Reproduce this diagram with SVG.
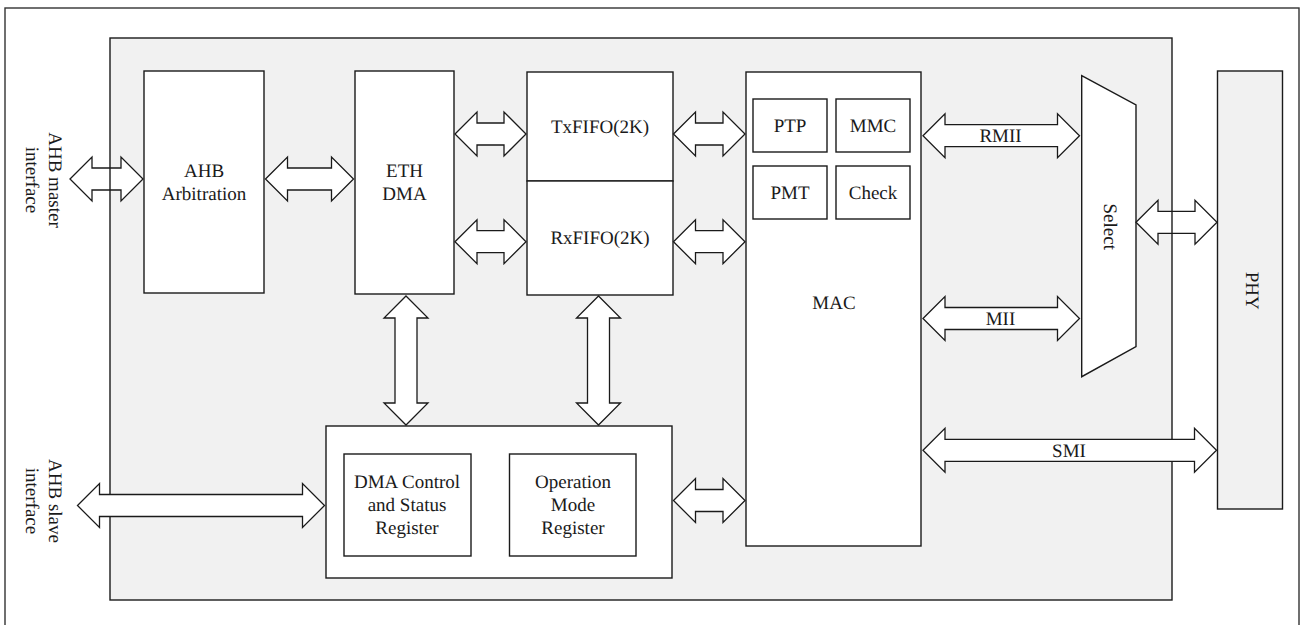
<svg xmlns="http://www.w3.org/2000/svg" width="1301" height="625" viewBox="0 0 1301 625" font-family="'Liberation Serif', 'Times New Roman', serif">
<style>
.bx{fill:#ffffff;stroke:#1a1a1a;stroke-width:1.4}
.gr{fill:#f1f1f1;stroke:#1a1a1a;stroke-width:1.4}
.ar{fill:#ffffff;stroke:#1a1a1a;stroke-width:1.3;stroke-linejoin:miter}
.ln{stroke:#1a1a1a;stroke-width:1.4;fill:none}
.t{font-family:'Liberation Serif', 'Times New Roman', serif;font-size:19px;fill:#1a1a1a;text-anchor:middle;text-rendering:geometricPrecision}
</style>
<rect id="frame" x="5" y="8" width="1294" height="630" fill="#ffffff" stroke="#333333" stroke-width="1.4"/>
<g id="panel"><rect class="gr" x="110" y="38" width="1062" height="562"/></g>

<g id="arbitration"><rect class="bx" x="144" y="71" width="120" height="222"/><text class="t" x="204" y="177">AHB</text><text class="t" x="204" y="199.5">Arbitration</text></g>
<g id="ethdma"><rect class="bx" x="355" y="71" width="99" height="223"/><text class="t" x="404.5" y="177">ETH</text><text class="t" x="404.5" y="200">DMA</text></g>
<g id="txfifo"><rect class="bx" x="527" y="72" width="146" height="109"/><text class="t" x="600" y="133">TxFIFO(2K)</text></g>
<g id="rxfifo"><rect class="bx" x="527" y="181" width="146" height="114"/><text class="t" x="600" y="244">RxFIFO(2K)</text></g>
<g id="mac"><rect class="bx" x="746" y="72" width="175" height="474"/><text class="t" x="834" y="309">MAC</text>
<g id="ptp"><rect class="bx" x="753" y="99" width="74" height="53"/><text class="t" x="790" y="132">PTP</text></g>
<g id="mmc"><rect class="bx" x="836" y="99" width="74" height="53"/><text class="t" x="873" y="132">MMC</text></g>
<g id="pmt"><rect class="bx" x="753" y="166" width="74" height="53"/><text class="t" x="790" y="199">PMT</text></g>
<g id="check"><rect class="bx" x="836" y="166" width="74" height="53"/><text class="t" x="873" y="199">Check</text></g>
</g>
<g id="registers"><rect class="bx" x="326" y="426" width="346" height="152"/>
<g id="dmareg"><rect class="bx" x="344" y="454" width="127" height="102"/><text class="t" x="407" y="487.5">DMA Control</text><text class="t" x="407" y="510.5">and Status</text><text class="t" x="407" y="534">Register</text></g>
<g id="opreg"><rect class="bx" x="509.5" y="454" width="126.5" height="102"/><text class="t" x="573" y="487.5">Operation</text><text class="t" x="573" y="510.5">Mode</text><text class="t" x="573" y="534">Register</text></g>
</g>
<g id="select"><polygon class="bx" points="1081.7,75.7 1136,105 1136,346.7 1081.7,376.7"/><text class="t" transform="translate(1103.5,226.7) rotate(90)">Select</text></g>
<g id="phy"><rect class="gr" x="1217.5" y="71" width="65" height="438"/><text class="t" transform="translate(1246,290.7) rotate(90)">PHY</text></g>

<g id="labels">
<text class="t" transform="translate(48.5,180) rotate(90)">AHB master</text>
<text class="t" transform="translate(26,180) rotate(90)">interface</text>
<text class="t" transform="translate(48.5,501) rotate(90)">AHB slave</text>
<text class="t" transform="translate(26,501) rotate(90)">interface</text>
</g>

<g id="connectors">
<path class="ar" d="M70,179 L92,157 L92,168 L121,168 L121,157 L143,179 L121,201 L121,190 L92,190 L92,201 Z"/>
<line class="ln" x1="110" y1="168" x2="110" y2="190"/>
<path class="ar" d="M265.5,179 L287.5,157 L287.5,168 L331.5,168 L331.5,157 L353.5,179 L331.5,201 L331.5,190 L287.5,190 L287.5,201 Z"/>
<path class="ar" d="M455,134 L477,112 L477,123 L504,123 L504,112 L526,134 L504,156 L504,145 L477,145 L477,156 Z"/>
<path class="ar" d="M455,241.7 L477,219.7 L477,230.7 L504,230.7 L504,219.7 L526,241.7 L504,263.7 L504,252.7 L477,252.7 L477,263.7 Z"/>
<path class="ar" d="M673.5,134 L695.5,112 L695.5,123 L723,123 L723,112 L745,134 L723,156 L723,145 L695.5,145 L695.5,156 Z"/>
<path class="ar" d="M673.5,241.7 L695.5,219.7 L695.5,230.7 L723,230.7 L723,219.7 L745,241.7 L723,263.7 L723,252.7 L695.5,252.7 L695.5,263.7 Z"/>
<path class="ar" d="M673.5,500.5 L695.5,478.5 L695.5,489.5 L723,489.5 L723,478.5 L745,500.5 L723,522.5 L723,511.5 L695.5,511.5 L695.5,522.5 Z"/>
<path class="ar" d="M77.5,505.5 L99.5,483.5 L99.5,494.5 L302.5,494.5 L302.5,483.5 L324.5,505.5 L302.5,527.5 L302.5,516.5 L99.5,516.5 L99.5,527.5 Z"/>
<path class="ar" d="M923,135.7 L945,113.7 L945,124.7 L1057.5,124.7 L1057.5,113.7 L1079.5,135.7 L1057.5,157.7 L1057.5,146.7 L945,146.7 L945,157.7 Z"/>
<path class="ar" d="M923,318.5 L945,296.5 L945,307.5 L1057.5,307.5 L1057.5,296.5 L1079.5,318.5 L1057.5,340.5 L1057.5,329.5 L945,329.5 L945,340.5 Z"/>
<path class="ar" d="M1136,222.3 L1158,200.3 L1158,211.3 L1195,211.3 L1195,200.3 L1217,222.3 L1195,244.3 L1195,233.3 L1158,233.3 L1158,244.3 Z"/>
<line class="ln" x1="1172" y1="211.3" x2="1172" y2="233.3"/>
<path class="ar" d="M923,450.3 L945,428.3 L945,439.3 L1194.5,439.3 L1194.5,428.3 L1216.5,450.3 L1194.5,472.3 L1194.5,461.3 L945,461.3 L945,472.3 Z"/>
<path class="ar" d="M406,296 L428,318 L417,318 L417,403 L428,403 L406,425 L384,403 L395,403 L395,318 L384,318 Z"/>
<path class="ar" d="M598.5,296 L620.5,318 L609.5,318 L609.5,403 L620.5,403 L598.5,425 L576.5,403 L587.5,403 L587.5,318 L576.5,318 Z"/>
<text class="t" x="1000.5" y="142">RMII</text>
<text class="t" x="1000.5" y="325">MII</text>
<text class="t" x="1069" y="456.5">SMI</text>
</g>
</svg>
